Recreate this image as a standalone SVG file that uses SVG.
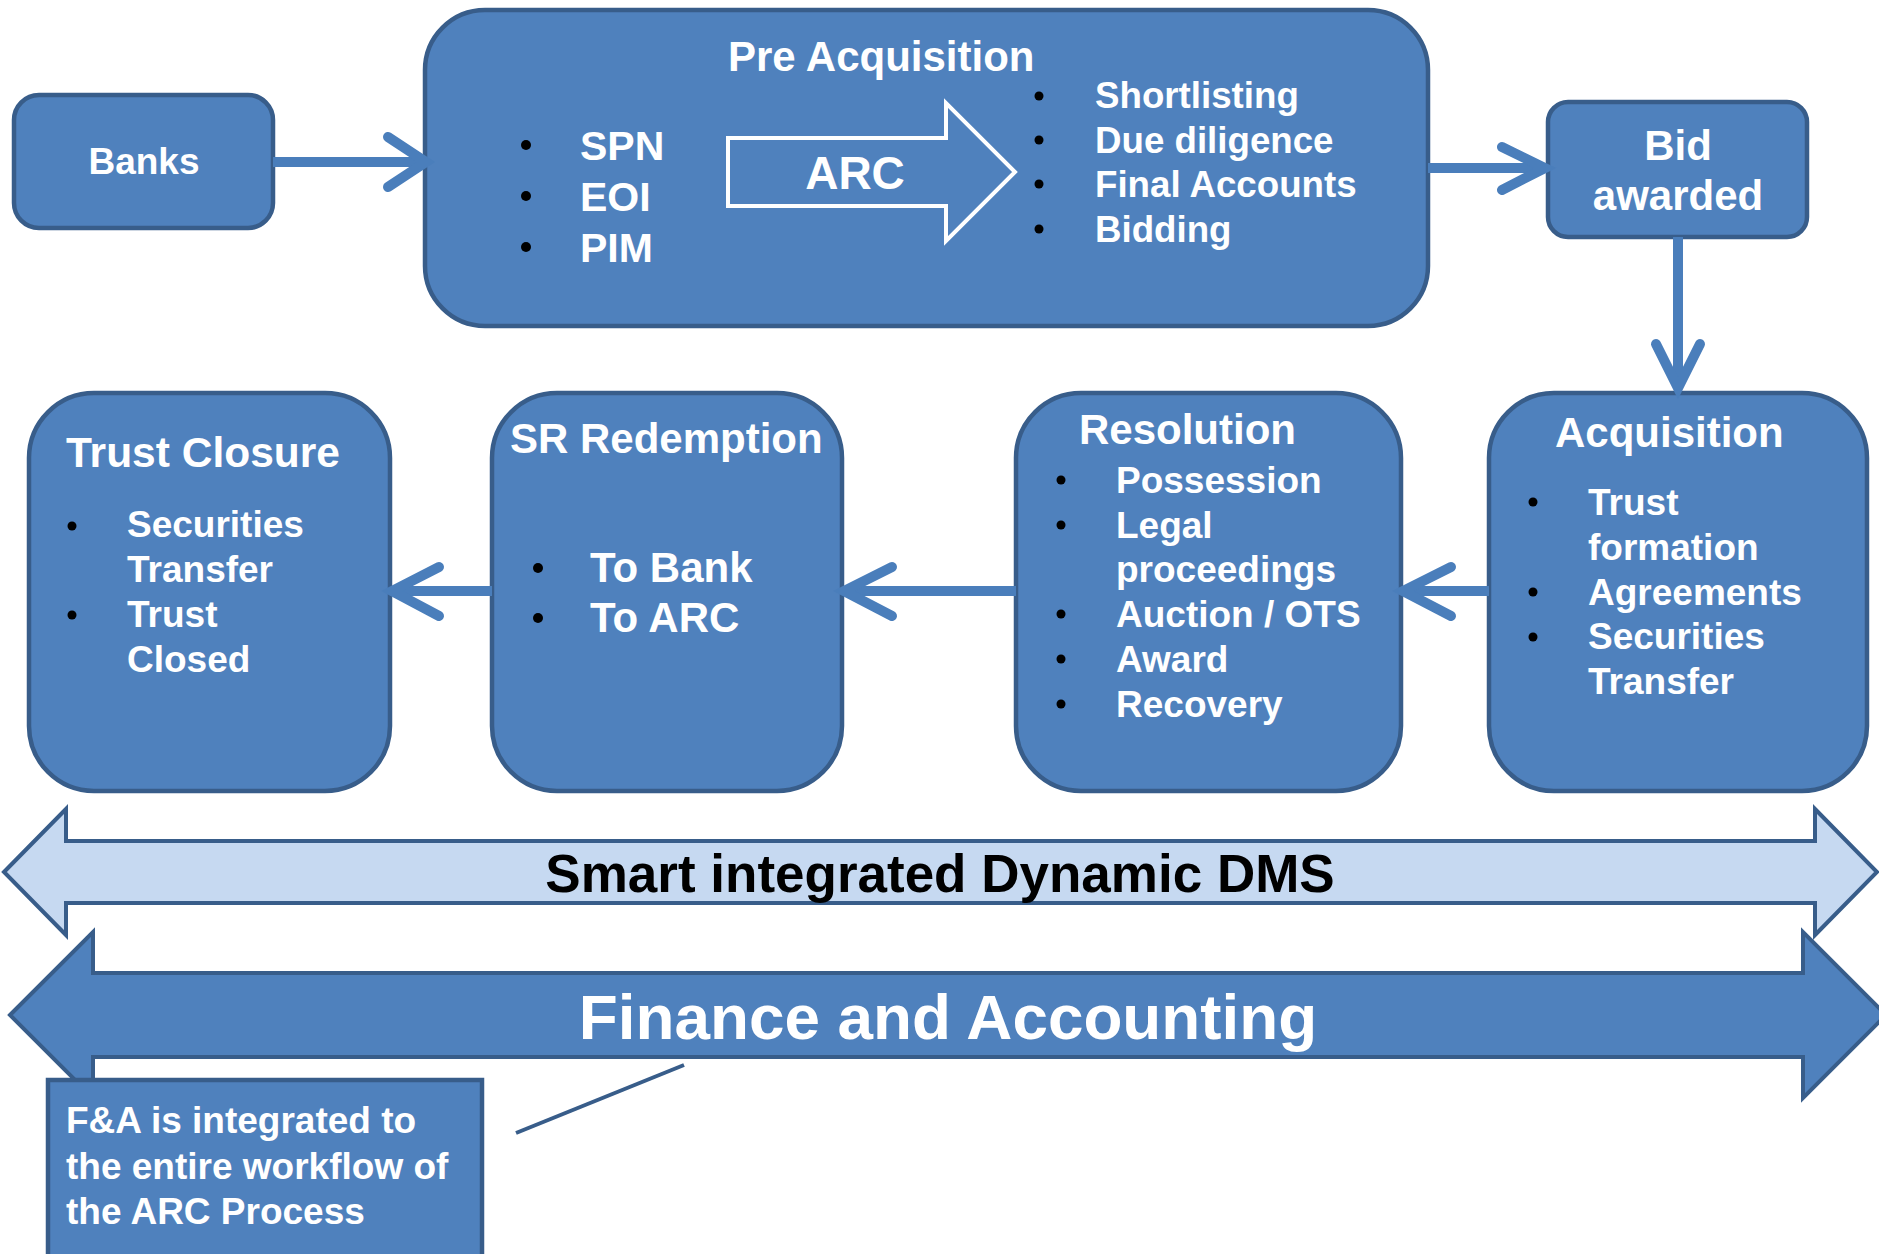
<svg xmlns="http://www.w3.org/2000/svg" width="1879" height="1254" viewBox="0 0 1879 1254">
<style>
.box{fill:#4F81BD;stroke:#385D8A;stroke-width:4.5}
.t{font-family:"Liberation Sans",Arial,sans-serif;font-weight:bold;fill:#FFFFFF}
.h{font-size:42px}
.l{font-size:37px}
.b{fill:#000000}
.cl{stroke:#4A7EBB;stroke-width:10;fill:none}
.ch{stroke:#4A7EBB;stroke-width:10;fill:none;stroke-linecap:round;stroke-linejoin:miter}
</style>
<rect width="1879" height="1254" fill="#FFFFFF"/>

<g id="dms-band">
<polygon points="4,872 66,809 66,841 1815,841 1815,809 1877,872 1815,935 1815,903 66,903 66,935" fill="#C6D9F1" stroke="#385D8A" stroke-width="4"/>
<text x="940" y="892" text-anchor="middle" font-family="Liberation Sans,Arial,sans-serif" font-weight="bold" font-size="53" fill="#000000">Smart integrated Dynamic DMS</text>
</g>

<g id="fa-band">
<polygon points="10,1015 93,932 93,973 1803,973 1803,932 1886,1015 1803,1098 1803,1057 93,1057 93,1098" fill="#4F81BD" stroke="#385D8A" stroke-width="4"/>
<text x="948" y="1039" text-anchor="middle" class="t" font-size="63.8">Finance and Accounting</text>
</g>

<g id="fa-note">
<rect x="48" y="1080" width="434" height="200" fill="#4F81BD" stroke="#385D8A" stroke-width="4.5"/>
<text class="t l" x="66" y="1133">F&amp;A is integrated to</text>
<text class="t l" x="66" y="1179">the entire workflow of</text>
<text class="t l" x="66" y="1224">the ARC Process</text>
</g>

<g id="banks">
<rect class="box" x="14" y="95" width="259" height="133" rx="25"/>
<text class="t" x="144" y="174" text-anchor="middle" font-size="37">Banks</text>
</g>

<g id="pre-acquisition">
<rect class="box" x="425" y="10" width="1003" height="316" rx="60"/>
<text class="t h" x="728" y="71">Pre Acquisition</text>
<circle class="b" cx="526" cy="145" r="5"/>
<circle class="b" cx="526" cy="196" r="5"/>
<circle class="b" cx="526" cy="247" r="5"/>
<text class="t" font-size="41" x="580" y="160">SPN</text>
<text class="t" font-size="41" x="580" y="211">EOI</text>
<text class="t" font-size="41" x="580" y="262">PIM</text>
<polygon points="728,138 946,138 946,103 1015,172 946,241 946,206 728,206" fill="none" stroke="#FFFFFF" stroke-width="4"/>
<text class="t" x="855" y="189" text-anchor="middle" font-size="46">ARC</text>
<circle class="b" cx="1039" cy="96" r="4.5"/>
<circle class="b" cx="1039" cy="140" r="4.5"/>
<circle class="b" cx="1039" cy="184" r="4.5"/>
<circle class="b" cx="1039" cy="229" r="4.5"/>
<text class="t" font-size="36.7" x="1095" y="108">Shortlisting</text>
<text class="t" font-size="36.7" x="1095" y="153">Due diligence</text>
<text class="t" font-size="36.7" x="1095" y="197">Final Accounts</text>
<text class="t" font-size="36.7" x="1095" y="242">Bidding</text>
</g>

<g id="bid-awarded">
<rect class="box" x="1548" y="102" width="259" height="135" rx="20"/>
<text class="t h" x="1678" y="160" text-anchor="middle">Bid</text>
<text class="t h" x="1678" y="210" text-anchor="middle">awarded</text>
</g>

<g id="acquisition">
<rect class="box" x="1489" y="393" width="378" height="398" rx="65"/>
<text class="t h" x="1555" y="447">Acquisition</text>
<circle class="b" cx="1533" cy="502" r="4.5"/>
<circle class="b" cx="1533" cy="592" r="4.5"/>
<circle class="b" cx="1533" cy="637" r="4.5"/>
<text class="t l" x="1588" y="515">Trust</text>
<text class="t l" x="1588" y="560">formation</text>
<text class="t l" x="1588" y="605">Agreements</text>
<text class="t l" x="1588" y="649">Securities</text>
<text class="t l" x="1588" y="694">Transfer</text>
</g>

<g id="resolution">
<rect class="box" x="1016" y="393" width="385" height="398" rx="65"/>
<text class="t h" x="1079" y="444">Resolution</text>
<circle class="b" cx="1061" cy="480" r="4.5"/>
<circle class="b" cx="1061" cy="525" r="4.5"/>
<circle class="b" cx="1061" cy="614" r="4.5"/>
<circle class="b" cx="1061" cy="659" r="4.5"/>
<circle class="b" cx="1061" cy="704" r="4.5"/>
<text class="t l" x="1116" y="493">Possession</text>
<text class="t l" x="1116" y="538">Legal</text>
<text class="t l" x="1116" y="582">proceedings</text>
<text class="t l" x="1116" y="627">Auction / OTS</text>
<text class="t l" x="1116" y="672">Award</text>
<text class="t l" x="1116" y="717">Recovery</text>
</g>

<g id="sr-redemption">
<rect class="box" x="492" y="393" width="350" height="398" rx="65"/>
<text class="t h" x="510" y="453">SR Redemption</text>
<circle class="b" cx="538" cy="568" r="5"/>
<circle class="b" cx="538" cy="618" r="5"/>
<text class="t h" x="590" y="582">To Bank</text>
<text class="t h" x="590" y="632">To ARC</text>
</g>

<g id="trust-closure">
<rect class="box" x="29" y="393" width="361" height="398" rx="65"/>
<text class="t" font-size="42.5" x="66" y="467">Trust Closure</text>
<circle class="b" cx="72" cy="526" r="4.5"/>
<circle class="b" cx="72" cy="615" r="4.5"/>
<text class="t l" x="127" y="537">Securities</text>
<text class="t l" x="127" y="582">Transfer</text>
<text class="t l" x="127" y="627">Trust</text>
<text class="t l" x="127" y="672">Closed</text>
</g>

<g id="connectors">
<line class="cl" x1="273" y1="162" x2="423" y2="162"/>
<polyline class="ch" points="388,137 426,162 388,187"/>
<line class="cl" x1="1428" y1="168" x2="1543" y2="168"/>
<polyline class="ch" points="1502,147 1545,168 1502,190"/>
<line class="cl" x1="1678" y1="237" x2="1678" y2="386"/>
<polyline class="ch" points="1656,344 1678,388 1700,344"/>
<line class="cl" x1="1489" y1="591" x2="1405" y2="591"/>
<polyline class="ch" points="1451,567 1403,591 1451,616"/>
<line class="cl" x1="1016" y1="591" x2="846" y2="591"/>
<polyline class="ch" points="892,567 844,591 892,616"/>
<line class="cl" x1="492" y1="591" x2="394" y2="591"/>
<polyline class="ch" points="439,567 392,591 439,616"/>
<line x1="516" y1="1133" x2="684" y2="1065" stroke="#385D8A" stroke-width="4"/>
</g>
</svg>
